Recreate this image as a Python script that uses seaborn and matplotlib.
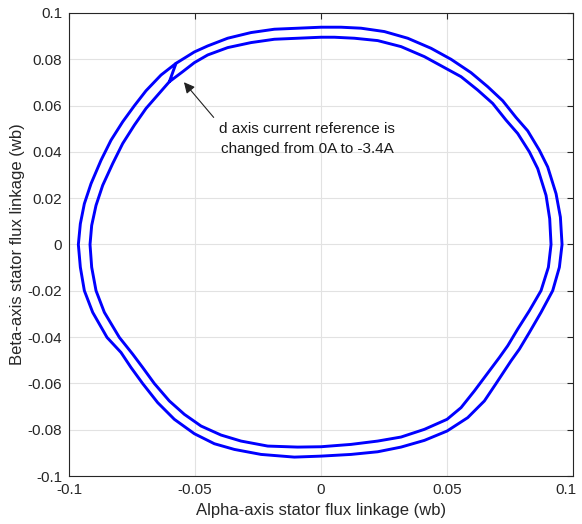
import matplotlib
matplotlib.use("Agg")
import matplotlib.pyplot as plt
from matplotlib.transforms import ScaledTranslation
import pandas as pd
import seaborn as sns

# ---- data (Wb) ----
# outer locus (before the d-axis current step), counter-clockwise, starting and ending at the step
outer_alpha = [-0.05754, -0.06349, -0.06945, -0.07408, -0.07871, -0.08334, -0.08730, -0.09127,
               -0.09392, -0.09551, -0.09630, -0.09551, -0.09392, -0.09061, -0.08492, -0.07937,
               -0.07540, -0.07077, -0.06482, -0.05820, -0.05027, -0.04233, -0.03439, -0.02381,
               -0.01058, 0.00000, 0.01190, 0.02249, 0.03175, 0.04101, 0.05000, 0.05820,
               0.06482, 0.06945, 0.07540, 0.07871, 0.08268, 0.08730, 0.09193, 0.09458,
               0.09564, 0.09498, 0.09326, 0.08995, 0.08664, 0.08201, 0.07738, 0.07209,
               0.06614, 0.05953, 0.05159, 0.04365, 0.03439, 0.02513, 0.01587, 0.00794,
               0.00000, -0.00926, -0.01852, -0.02778, -0.03704, -0.04498, -0.05027, -0.05754]
outer_beta = [0.07826, 0.07321, 0.06642, 0.05993, 0.05299, 0.04505, 0.03639, 0.02628,
              0.01762, 0.00895, 0.00000, -0.00982, -0.01993, -0.02931, -0.04014, -0.04664,
              -0.05314, -0.06007, -0.06830, -0.07552, -0.08173, -0.08606, -0.08852, -0.09068,
              -0.09184, -0.09141, -0.09068, -0.08953, -0.08751, -0.08462, -0.08058, -0.07480,
              -0.06758, -0.06007, -0.05025, -0.04520, -0.03798, -0.02931, -0.01993, -0.00982,
              0.00000, 0.01184, 0.02195, 0.03350, 0.04072, 0.04910, 0.05487, 0.06209,
              0.06816, 0.07422, 0.08000, 0.08476, 0.08910, 0.09198, 0.09343, 0.09386,
              0.09386, 0.09343, 0.09299, 0.09155, 0.08910, 0.08577, 0.08317, 0.07826]
# inner locus (after the step to -3.4 A), counter-clockwise from the step
inner_alpha = [-0.06019, -0.06482, -0.06945, -0.07408, -0.07871, -0.08268, -0.08664, -0.08929,
               -0.09101, -0.09167, -0.09101, -0.08929, -0.08598, -0.08003, -0.07474, -0.07077,
               -0.06614, -0.06019, -0.05424, -0.04762, -0.03968, -0.03175, -0.02116, -0.00926,
               0.00000, 0.01190, 0.02249, 0.03175, 0.04101, 0.05000, 0.05556, 0.06085,
               0.06482, 0.07077, 0.07408, 0.07805, 0.08268, 0.08730, 0.09022, 0.09127,
               0.09074, 0.08929, 0.08598, 0.08268, 0.07805, 0.07342, 0.06812, 0.06217,
               0.05556, 0.04828, 0.04101, 0.03175, 0.02249, 0.01323, 0.00529, 0.00000,
               -0.00926, -0.01852, -0.02778, -0.03704, -0.04498, -0.05027, -0.05490, -0.06019]
inner_beta = [0.07032, 0.06455, 0.05877, 0.05155, 0.04361, 0.03494, 0.02556, 0.01689,
              0.00823, 0.00000, -0.00982, -0.01993, -0.02931, -0.04014, -0.04736, -0.05314,
              -0.06007, -0.06758, -0.07336, -0.07841, -0.08231, -0.08491, -0.08707, -0.08751,
              -0.08736, -0.08635, -0.08491, -0.08317, -0.07985, -0.07552, -0.07047, -0.06325,
              -0.05747, -0.04881, -0.04375, -0.03653, -0.02859, -0.01993, -0.00982, 0.00000,
              0.01112, 0.02123, 0.03278, 0.04000, 0.04794, 0.05372, 0.06094, 0.06671,
              0.07249, 0.07682, 0.08115, 0.08548, 0.08808, 0.08910, 0.08953, 0.08953,
              0.08910, 0.08866, 0.08722, 0.08505, 0.08187, 0.07855, 0.07465, 0.07032]

x_ticks = [-0.1, -0.05, 0, 0.05, 0.1]
x_tick_labels = ["-0.1", "-0.05", "0", "0.05", "0.1"]
y_ticks = [-0.1, -0.08, -0.06, -0.04, -0.02, 0, 0.02, 0.04, 0.06, 0.08, 0.1]
y_tick_labels = ["-0.1", "-0.08", "-0.06", "-0.04", "-0.02", "0",
                 "0.02", "0.04", "0.06", "0.08", "0.1"]

annotation_lines = ["d axis current reference is", "changed from 0A to -3.4A"]
arrow_tip = (-0.0544, 0.0701)
arrow_tail = (-0.0426, 0.0549)

# ---- figure ----
sns.set_theme(style="white")
plt.rcParams["font.family"] = ["Liberation Sans", "DejaVu Sans"]

fig = plt.figure(figsize=(5.82, 5.24), dpi=100)
ax = fig.add_axes([0.1186, 0.0916, 0.866, 0.8836])

df = pd.DataFrame({
    "alpha": outer_alpha + inner_alpha,
    "beta": outer_beta + inner_beta,
})
sns.lineplot(data=df, x="alpha", y="beta", sort=False, estimator=None,
             color="#0000ff", lw=2.1, ax=ax)

ax.set_xlim(-0.1, 0.1)
ax.set_ylim(-0.1, 0.1)
ax.set_xticks(x_ticks)
ax.set_xticklabels(x_tick_labels)
ax.set_yticks(y_ticks)
ax.set_yticklabels(y_tick_labels)

ax.grid(True, color="#e2e2e2", lw=0.8)
ax.set_axisbelow(True)
for s in ax.spines.values():
    s.set_color("#262626")
    s.set_linewidth(0.8)
    s.set_visible(True)
ax.tick_params(direction="in", top=True, right=True, length=4, width=0.8,
               color="#262626", labelsize=11, labelcolor="#262626", pad=5)
ax.tick_params(axis="x", labeltop=False)
ax.tick_params(axis="y", labelright=False)

# keep the last x tick label inside the canvas
last = ax.get_xticklabels()[-1]
last.set_transform(last.get_transform() + ScaledTranslation(-5 / 72, 0, fig.dpi_scale_trans))

ax.set_xlabel("Alpha-axis stator flux linkage (wb)", fontsize=12, color="#262626", labelpad=4)
ax.set_ylabel("Beta-axis stator flux linkage (wb)", fontsize=12, color="#262626", labelpad=2)

ax.annotate("", xy=arrow_tip, xytext=arrow_tail,
            arrowprops=dict(arrowstyle="-|>", color="#222222", lw=0.8,
                            mutation_scale=16, shrinkA=0, shrinkB=0))
ax.text(-0.0055, 0.0498, annotation_lines[0], ha="center", va="center",
        fontsize=11, color="#1a1a1a")
ax.text(-0.0055, 0.0412, annotation_lines[1], ha="center", va="center",
        fontsize=11, color="#1a1a1a")

fig.savefig("out.png", dpi=100)
